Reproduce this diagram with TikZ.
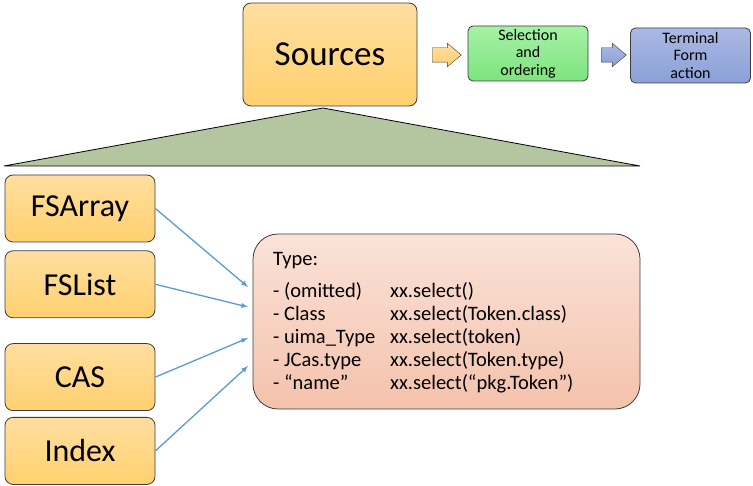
\documentclass[tikz,border=0pt]{standalone}
\usepackage{fontspec}
\setmainfont{Carlito}
\usetikzlibrary{arrows,shapes.arrows,positioning}
\definecolor{sunflower}{RGB}{255, 222, 160}
\definecolor{orange}{RGB}{255, 208, 110}
\definecolor{emerald}{RGB}{165, 242, 165}
\definecolor{nephritis}{RGB}{125, 228, 125}
\definecolor{peterriver}{RGB}{170, 185, 228}
\definecolor{belizehole}{RGB}{138, 160, 215}
\definecolor{peach}{RGB}{250, 226, 216}
\definecolor{salmon}{RGB}{244, 194, 172}
\definecolor{moss}{RGB}{180, 198, 160}
\definecolor{linkblue}{RGB}{91, 155, 213}
\definecolor{edge}{RGB}{60, 60, 60}
\tikzset{
  srcbox/.style={draw=edge, thick, rounded corners=8pt, top color=sunflower, bottom color=orange,
                 minimum width=150pt, minimum height=67pt, inner sep=0pt, font=\fontsize{32}{38}\selectfont},
  stagebox/.style={draw=edge, thick, rounded corners=5pt, minimum width=120pt, minimum height=55pt,
                 inner sep=0pt, align=center, font=\fontsize{16}{17.5}\selectfont},
  flowarrow/.style={single arrow, draw=edge, thin, inner xsep=0pt, inner ysep=7pt,
                 single arrow head extend=4.5pt, single arrow tip angle=80}
}
\begin{document}
\begin{tikzpicture}[x=1pt, y=-1pt]
  \useasboundingbox (0,0) rectangle (753,486);
  % top row
  \node[srcbox, minimum width=174pt, minimum height=103pt, font=\fontsize{35}{40}\selectfont]
       (src) at (330, 54.5) {Sources};
  \node[flowarrow, minimum height=29pt, top color=sunflower, bottom color=orange] (arr1) at (442.5, 55) {};
  \node[stagebox, top color=emerald, bottom color=nephritis, minimum height=55pt]
       (sel) at (528, 53.5) {Selection\\and\\ordering};
  \node[flowarrow, minimum height=25pt, top color=peterriver, bottom color=belizehole] (arr2) at (609.5, 55) {};
  \node[stagebox, top color=peterriver, bottom color=belizehole, minimum height=55pt]
       (term) at (690.5, 55.5) {Terminal\\Form\\action};
  % the sources fan out
  \coordinate (apex) at (323, 108);
  \filldraw[draw=black, thick, fill=moss] (apex) -- (640, 166) -- (4, 166) -- cycle;
  % kinds of sources
  \node[srcbox] (fsarray) at (80, 208.5) {FSArray};
  \node[srcbox, below=8pt of fsarray] (fslist) {FSList};
  \node[srcbox, below=25pt of fslist] (cas) {CAS};
  \node[srcbox, below=6pt of cas] (index) {Index};
  % type argument
  \node[draw=edge, thick, rounded corners=25pt, top color=peach, bottom color=salmon,
        minimum width=387pt, minimum height=175pt] (type) at (446.5, 321.5) {};
  \node[anchor=north west, inner sep=0pt, font=\fontsize{20.5}{23}\selectfont] (typetext) at (273, 249)
       {\begin{tabular}{@{}p{117pt}@{}l@{}}
          Type: & \\[9pt]
          - (omitted) & xx.select() \\
          - Class & xx.select(Token.class) \\
          - uima\_Type & xx.select(token) \\
          - JCas.type & xx.select(Token.type) \\
          - “name” & xx.select(“pkg.Token”)
        \end{tabular}};
  \coordinate (in1) at (248, 287);
  \coordinate (in2) at (248, 307);
  \coordinate (in3) at (248, 338);
  \coordinate (in4) at (248, 366);
  \draw[-latex, draw=linkblue, line width=1.3pt] (fsarray.east) -- (in1);
  \draw[-latex, draw=linkblue, line width=1.3pt] (fslist.east) -- (in2);
  \draw[-latex, draw=linkblue, line width=1.3pt] (cas.east) -- (in3);
  \draw[-latex, draw=linkblue, line width=1.3pt] (index.east) -- (in4);
\end{tikzpicture}
\end{document}
